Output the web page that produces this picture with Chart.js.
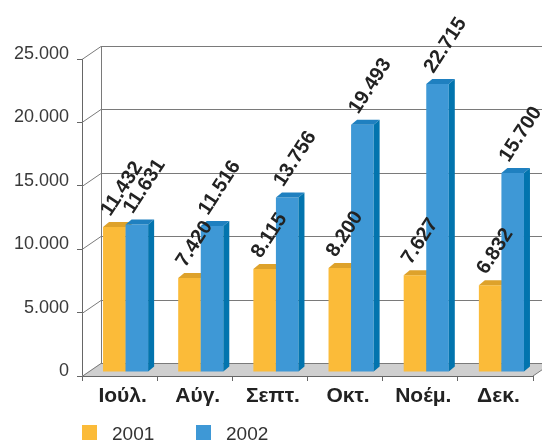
<!DOCTYPE html>
<html>
<head>
<meta charset="utf-8">
<script src="https://cdn.jsdelivr.net/npm/chart.js@4/dist/chart.umd.min.js"></script>
<style>
    html, body { margin: 0; padding: 0; background: #fff; }
    #wrap { position: relative; width: 542px; height: 442px; }
    #legend { position: absolute; left: 82px; top: 425px; font: 19px "Liberation Sans", Arial, sans-serif; color: #333; }
    #legend span.item { position: absolute; white-space: nowrap; line-height: 17px; }
    #legend i { display: inline-block; width: 15px; height: 15px; vertical-align: top; margin-right: 15px; }
</style>
</head>
<body>
<div id="wrap">
    <canvas id="chart" width="542" height="442"></canvas>
    <div id="legend"></div>
</div>
<script>
// Data
const months = ['Ιούλ.', 'Αύγ.', 'Σεπτ.', 'Οκτ.', 'Νοέμ.', 'Δεκ.'];
const years = ['2001', '2002'];
const values2001 = [11432, 7420, 8115, 8200, 7627, 6832];
const values2002 = [11631, 11516, 13756, 19493, 22715, 15700];
const yMax = 25000;
const yStep = 5000;

const colors = [
    { front: '#fbbb39', top: '#dea22b', side: '#d99a22' },
    { front: '#3e98d6', top: '#1f80c0', side: '#0274ae' }
];

// 3D offsets
const WALL_DX = 19, WALL_DY = -13;
const SHIFT_DX = 6, SHIFT_DY = -4;
const DEPTH_DX = 6, DEPTH_DY = -5;

function fmt(n) {
    return String(n).replace(/\B(?=(\d{3})+(?!\d))/g, '.');
}

function poly(ctx, pts, fill) {
    ctx.beginPath();
    ctx.moveTo(pts[0][0], pts[0][1]);
    for (let i = 1; i < pts.length; i++) ctx.lineTo(pts[i][0], pts[i][1]);
    ctx.closePath();
    ctx.fillStyle = fill;
    ctx.fill();
}

const frame3d = {
    id: 'frame3d',
    beforeDatasetsDraw(chart) {
        const ctx = chart.ctx;
        const a = chart.chartArea;
        const ys = chart.scales.y;
        ctx.save();
        // floor
        poly(ctx, [[a.left, a.bottom], [a.left + WALL_DX, a.bottom + WALL_DY],
                   [a.right + WALL_DX, a.bottom + WALL_DY], [a.right, a.bottom]], '#cfcfcf');
        ctx.strokeStyle = '#7a7a7a';
        ctx.lineWidth = 1;
        ctx.beginPath();
        ctx.moveTo(a.left + WALL_DX + 0.5, a.top + WALL_DY);
        ctx.lineTo(a.left + WALL_DX + 0.5, a.bottom + WALL_DY);
        for (let v = 0; v <= yMax; v += yStep) {
            const y = Math.round(ys.getPixelForValue(v)) + 0.5;
            ctx.moveTo(a.left, y);
            ctx.lineTo(a.left + WALL_DX, y + WALL_DY);
            ctx.lineTo(chart.width, y + WALL_DY);
        }
        ctx.moveTo(a.right, a.bottom);
        ctx.lineTo(a.right + WALL_DX, a.bottom + WALL_DY);
        ctx.stroke();
        ctx.restore();
    },
    afterDatasetsDraw(chart) {
        const ctx = chart.ctx;
        // 3D bars, drawn in dataset order so 2002 sits in front of 2001's side
        ctx.save();
        ctx.translate(SHIFT_DX, SHIFT_DY);
        chart.data.datasets.forEach((ds, i) => {
            const c = colors[i];
            chart.getDatasetMeta(i).data.forEach(bar => {
                const l = bar.x - bar.width / 2, r = bar.x + bar.width / 2;
                poly(ctx, [[l, bar.y], [r, bar.y], [r, bar.base], [l, bar.base]], c.front);
                poly(ctx, [[l, bar.y], [l + DEPTH_DX, bar.y + DEPTH_DY],
                           [r + DEPTH_DX, bar.y + DEPTH_DY], [r, bar.y]], c.top);
                poly(ctx, [[r, bar.y], [r + DEPTH_DX, bar.y + DEPTH_DY],
                           [r + DEPTH_DX, bar.base + DEPTH_DY], [r, bar.base]], c.side);
            });
        });
        ctx.restore();

        // value labels
        ctx.save();
        ctx.fillStyle = '#222';
        ctx.font = 'bold 20px "Liberation Sans", Arial, sans-serif';
        ctx.textAlign = 'left';
        ctx.textBaseline = 'alphabetic';
        chart.data.datasets.forEach((ds, i) => {
            chart.getDatasetMeta(i).data.forEach((bar, j) => {
                ctx.save();
                ctx.translate(bar.x + SHIFT_DX - 4, bar.y + SHIFT_DY - 10);
                ctx.rotate(-57 * Math.PI / 180);
                ctx.fillText(fmt(ds.data[j]), 0, 0);
                ctx.restore();
            });
        });
        ctx.restore();
    }
};

new Chart(document.getElementById('chart'), {
    type: 'bar',
    data: {
        labels: months,
        datasets: [
            { label: years[0], data: values2001, backgroundColor: 'rgba(0,0,0,0)' },
            { label: years[1], data: values2002, backgroundColor: 'rgba(0,0,0,0)' }
        ]
    },
    options: {
        responsive: false,
        animation: false,
        events: [],
        layout: { padding: { top: 59, right: 9, bottom: 36, left: 0 } },
        datasets: { bar: { categoryPercentage: 0.6, barPercentage: 1.0, borderWidth: 0 } },
        plugins: { legend: { display: false }, tooltip: { enabled: false } },
        scales: {
            x: {
                grid: { offset: true, drawOnChartArea: false, drawTicks: true, tickLength: 5, color: '#666' },
                border: { display: true, color: '#666' },
                ticks: {
                    color: '#222',
                    padding: 3,
                    labelOffset: 3,
                    font: { family: '"Liberation Sans", Arial, sans-serif', size: 21, weight: 'bold' }
                },
                afterFit(scale) { scale.height = 30; }
            },
            y: {
                min: 0,
                max: yMax,
                ticks: {
                    stepSize: yStep,
                    color: '#3a3a3a',
                    padding: 8,
                    labelOffset: -5,
                    font: { family: '"Liberation Sans", Arial, sans-serif', size: 18 },
                    callback: v => fmt(v)
                },
                grid: { drawOnChartArea: false, drawTicks: true, tickLength: 5, color: '#666' },
                border: { display: true, color: '#666' },
                afterFit(scale) { scale.width = 82; }
            }
        }
    },
    plugins: [frame3d]
});

// legend
const legend = document.getElementById('legend');
years.forEach((t, i) => {
    const s = document.createElement('span');
    s.className = 'item';
    s.style.left = (i * 114) + 'px';
    s.innerHTML = '<i style="background:' + colors[i].front + '"></i>' + t;
    legend.appendChild(s);
});
</script>
</body>
</html>
